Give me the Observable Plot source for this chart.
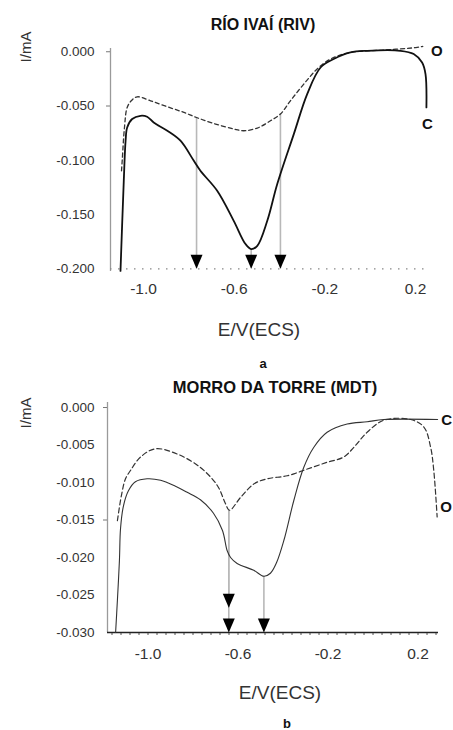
<!DOCTYPE html>
<html><head><meta charset="utf-8">
<script src="https://cdn.jsdelivr.net/npm/d3@7"></script>
<script src="https://cdn.jsdelivr.net/npm/@observablehq/plot@0.6"></script>
<style>
body{margin:0;background:#fff;font-family:"Liberation Sans",Arial,sans-serif;}
#root{position:relative;width:453px;height:730px;overflow:hidden;background:#fff}
.t{position:absolute;transform:translate(-50%,-50%);white-space:nowrap;color:#111;line-height:1}
.rot{transform:translate(-50%,-50%) rotate(-90deg)}
.box{position:absolute;left:0}
</style></head><body><div id="root"></div>
<script>
// ---------- data ----------
const xTickValues = [-1.0, -0.6, -0.2, 0.2];
const seriesLabels = ["C", "O"];

// Panel a: Río Ivaí (RIV)
const rivTitle = "RÍO IVAÍ (RIV)";
const rivSolidE = [-1.1015, -1.087, -1.079, -1.072, -1.050, -1.0135, -0.984, -0.955, -0.895, -0.837, -0.778, -0.749, -0.675, -0.602, -0.550, -0.525, -0.498, -0.454, -0.410, -0.337, -0.278, -0.219, -0.161, -0.087, -0.013, 0.134, 0.192, 0.229, 0.244, 0.248];
const rivSolidI = [-0.202, -0.1189, -0.082, -0.0698, -0.0620, -0.0590, -0.0599, -0.0652, -0.0728, -0.0820, -0.1005, -0.1097, -0.1281, -0.1558, -0.1772, -0.1818, -0.1788, -0.1558, -0.1219, -0.0759, -0.0390, -0.0145, -0.0067, -0.0006, 0.0009, 0.0009, -0.0021, -0.0099, -0.0206, -0.0513];
const rivDashE = [-1.097, -1.094, -1.084, -1.072, -1.054, -1.028, -0.969, -0.895, -0.822, -0.766, -0.690, -0.602, -0.558, -0.498, -0.440, -0.396, -0.352, -0.293, -0.234, -0.175, -0.087, 0.060, 0.207, 0.232];
const rivDashI = [-0.1097, -0.1005, -0.0698, -0.0513, -0.0452, -0.0415, -0.0452, -0.0507, -0.0559, -0.0606, -0.0661, -0.0712, -0.0728, -0.0703, -0.0636, -0.0574, -0.0452, -0.0298, -0.0159, -0.0067, -0.0006, 0.0016, 0.0040, 0.0050];
const rivArrowE = [-0.766, -0.525, -0.396];
const rivArrowFrom = [-0.0606, -0.1818, -0.0574];
const rivArrowTo = [-0.2, -0.2, -0.2];
const rivYTicks = [0, -0.05, -0.1, -0.15, -0.2];
const rivYTickMarks = [0, -0.05];

// Panel b: Morro da Torre (MDT)
const mdtTitle = "MORRO DA TORRE (MDT)";
const mdtSolidE = [-1.144, -1.136, -1.127, -1.122, -1.109, -1.087, -1.056, -1.004, -0.944, -0.878, -0.826, -0.767, -0.709, -0.669, -0.648, -0.633, -0.604, -0.530, -0.485, -0.456, -0.429, -0.396, -0.352, -0.308, -0.263, -0.204, -0.115, -0.026, 0.048, 0.287];
const mdtSolidI = [-0.0300, -0.0257, -0.0204, -0.0161, -0.0131, -0.0111, -0.0099, -0.0095, -0.0097, -0.0105, -0.0113, -0.0123, -0.0141, -0.0164, -0.0191, -0.0200, -0.0208, -0.0217, -0.0225, -0.0221, -0.0207, -0.0177, -0.0124, -0.0080, -0.0053, -0.0033, -0.0022, -0.0019, -0.0016, -0.0016];
const mdtDashE = [-1.136, -1.118, -1.100, -1.078, -1.033, -0.967, -0.870, -0.767, -0.692, -0.656, -0.638, -0.589, -0.530, -0.470, -0.381, -0.292, -0.204, -0.130, -0.085, -0.026, 0.048, 0.167, 0.226, 0.256, 0.270, 0.285];
const mdtDashI = [-0.0151, -0.0117, -0.0095, -0.0084, -0.0066, -0.0055, -0.0062, -0.0080, -0.0104, -0.0128, -0.0137, -0.0120, -0.0102, -0.0095, -0.0091, -0.0082, -0.0073, -0.0066, -0.0053, -0.0033, -0.0017, -0.0016, -0.0026, -0.0053, -0.0084, -0.0146];
const mdtArrowE = [-0.641, -0.641, -0.485];
const mdtArrowFrom = [-0.0137, -0.0137, -0.0225];
const mdtArrowTo = [-0.0267, -0.030, -0.030];
const mdtYTicks = [0, -0.005, -0.010, -0.015, -0.020, -0.025, -0.030];
const mdtYTickMarks = [0, -0.015];
const mdtMinorTicks = d3.range(-1.16, 0.29, 0.04);

// ---------- helpers ----------
const FONT = '"Liberation Sans", Arial, sans-serif';
const zip = (E, I) => E.map((e, i) => ({E: e, I: I[i]}));
const arrows = (E, F, T) => E.map((e, i) => ({E: e, from: F[i], to: T[i]}));
const downTri = {draw(ctx) { ctx.moveTo(-6, -14); ctx.lineTo(6, -14); ctx.lineTo(0, 0); ctx.closePath(); }};
const last = a => [a[a.length - 1]];

const root = document.getElementById("root");
function addText(txt, x, y, css, cls) {
  const d = document.createElement("div");
  d.className = "t" + (cls ? " " + cls : "");
  d.textContent = txt;
  d.style.left = x + "px"; d.style.top = y + "px";
  d.style.cssText += css;
  root.appendChild(d);
}
function addPlot(svg, top) {
  const w = document.createElement("div");
  w.className = "box"; w.style.top = top + "px";
  w.appendChild(svg); root.appendChild(w);
}

// ---------- panel a ----------
const rivC = zip(rivSolidE, rivSolidI);
const rivO = zip(rivDashE, rivDashI);
const rivArr = arrows(rivArrowE, rivArrowFrom, rivArrowTo);
const xDomA = [-1.1456, 0.2572], yDomA = [-0.2025, 0.003];

const plotA = Plot.plot({
  width: 453, height: 300,
  marginTop: 8, marginBottom: 69, marginLeft: 110, marginRight: 25,
  style: {fontFamily: FONT, background: "transparent", overflow: "visible"},
  x: {domain: xDomA, label: null},
  y: {domain: yDomA, label: null},
  marks: [
    Plot.ruleX([xDomA[0]], {stroke: "#9a9a9a", strokeWidth: 1.3}),
    Plot.ruleY([rivYTicks[rivYTicks.length - 1]], {stroke: "#888", strokeWidth: 1.3, strokeDasharray: "1.5,6.5"}),
    Plot.axisX(xTickValues, {tickSize: 0, tickPadding: 11, fontSize: 15.5, fill: "#333", label: null, tickFormat: d => d.toFixed(1)}),
    Plot.axisY(rivYTicks, {tickSize: 0, tickPadding: 16, fontSize: 13.5, fill: "#333", label: null, tickFormat: d => d.toFixed(3)}),
    Plot.axisY(rivYTickMarks, {tickSize: 4, stroke: "#777", fill: "none", label: null}),
    Plot.ruleX(rivArr, {x: "E", y1: "from", y2: "to", stroke: "#b8b8b8", strokeWidth: 1.6}),
    Plot.line(rivO, {x: "E", y: "I", stroke: "#333", strokeWidth: 1.3, strokeDasharray: "4,3", curve: "catmull-rom"}),
    Plot.line(rivC, {x: "E", y: "I", stroke: "#111", strokeWidth: 1.8, curve: "catmull-rom"}),
    Plot.dot(rivArr, {x: "E", y: "to", symbol: downTri, fill: "#000", stroke: "none"}),
    Plot.text(last(rivO), {x: "E", y: "I", text: () => seriesLabels[1], dx: 14, dy: 4.5, fontSize: 15, fontWeight: "bold", fill: "#111"}),
    Plot.text(last(rivC), {x: "E", y: "I", text: () => seriesLabels[0], dx: 1, dy: 17, fontSize: 15, fontWeight: "bold", fill: "#111"})
  ]
});

// ---------- panel b ----------
const mdtC = zip(mdtSolidE, mdtSolidI);
const mdtO = zip(mdtDashE, mdtDashI);
const mdtArr = arrows(mdtArrowE, mdtArrowFrom, mdtArrowTo);
const xDomB = [-1.18, 0.291], yDomB = [-0.030, 0.00067];

const plotB = Plot.plot({
  width: 453, height: 330,
  marginTop: 7, marginBottom: 93, marginLeft: 107, marginRight: 15,
  style: {fontFamily: FONT, background: "transparent", overflow: "visible"},
  x: {domain: xDomB, label: null},
  y: {domain: yDomB, label: null},
  marks: [
    Plot.ruleX([xDomB[0]], {stroke: "#9a9a9a", strokeWidth: 1.3}),
    Plot.axisX(mdtMinorTicks, {tickSize: 3, stroke: "#555", fill: "none", label: null}),
    Plot.ruleY([yDomB[0]], {stroke: "#222", strokeWidth: 1.6}),
    Plot.axisX(xTickValues, {tickSize: 0, tickPadding: 15, fontSize: 15.5, fill: "#333", label: null, tickFormat: d => d.toFixed(1)}),
    Plot.axisY(mdtYTicks, {tickSize: 0, tickPadding: 13, fontSize: 13.5, fill: "#333", label: null, tickFormat: d => d.toFixed(3)}),
    Plot.axisY(mdtYTickMarks, {tickSize: 4, stroke: "#777", fill: "none", label: null}),
    Plot.ruleX(mdtArr, {x: "E", y1: "from", y2: "to", stroke: "#b8b8b8", strokeWidth: 1.6}),
    Plot.line(mdtO, {x: "E", y: "I", stroke: "#333", strokeWidth: 1.2, strokeDasharray: "5,3", curve: "catmull-rom"}),
    Plot.line(mdtC, {x: "E", y: "I", stroke: "#333", strokeWidth: 1.1, curve: "catmull-rom"}),
    Plot.dot(mdtArr, {x: "E", y: "to", symbol: downTri, fill: "#000", stroke: "none"}),
    Plot.text(last(mdtC), {x: "E", y: "I", text: () => seriesLabels[0], dx: 9, dy: 1, fontSize: 15, fontWeight: "bold", fill: "#111"}),
    Plot.text(last(mdtO), {x: "E", y: "I", text: () => seriesLabels[1], dx: 9, dy: -10, fontSize: 15, fontWeight: "bold", fill: "#111"})
  ]
});

addPlot(plotA, 40);
addPlot(plotB, 395);

// ---------- texts ----------
addText(rivTitle, 263, 25, "font-size:16px;font-weight:bold;");
addText("I/mA", 25, 47, "font-size:15px;color:#333;", "rot");
addText("E/V(ECS)", 259, 329, "font-size:19px;color:#333;");
addText("a", 263, 363, "font-size:13px;font-weight:bold;");

addText(mdtTitle, 275, 387, "font-size:16.5px;font-weight:bold;");
addText("I/mA", 25, 413, "font-size:15px;color:#333;", "rot");
addText("E/V(ECS)", 280, 692, "font-size:19px;color:#333;");
addText("b", 287, 723, "font-size:13px;font-weight:bold;");
</script></body></html>
